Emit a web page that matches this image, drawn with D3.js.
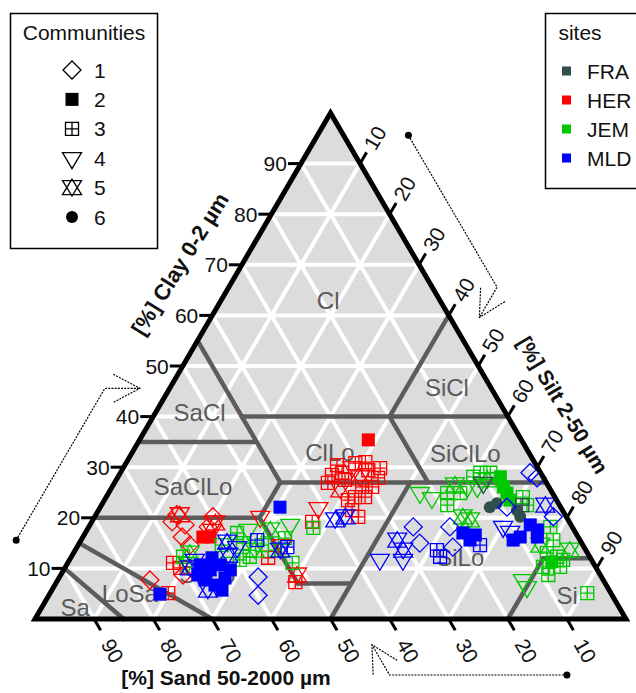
<!DOCTYPE html>
<html>
<head>
<meta charset="utf-8">
<script src="https://cdn.jsdelivr.net/npm/d3@7"></script>
<style>
  body { margin: 0; background: #fff; }
  svg { display: block; font-family: "Liberation Sans", Arial, sans-serif; }
</style>
</head>
<body>
<svg id="chart" width="636" height="693"></svg>
<script>
// ---- data: soil texture fractions [sand, silt, clay, community] per site ----
const siteNames = ["FRA", "HER", "JEM", "MLD"];
const siteColors = ["#2f4f4f", "#ff0000", "#00c800", "#0000ff"];
const communityLabels = ["1", "2", "3", "4", "5", "6"];
const axisTicks = [10, 20, 30, 40, 50, 60, 70, 80, 90];

const herSamples = [
  [65.7,13.7,20.6,1],[65.3,16.1,18.6,1],[67.0,16.8,16.2,1],[66.5,18.9,14.6,1],
  [67.2,13.6,19.2,1],[59.8,20.0,20.2,1],[61.6,20.2,18.2,1],[76.7,15.6,7.7,1],
  [70.6,20.7,8.7,1],[65.2,14.2,20.6,5],[63.5,20.3,16.2,2],[61.2,21.2,17.6,4],
  [60.0,21.0,19.0,5],[71.1,17.8,11.1,3],[70.4,19.5,10.1,3],[74.9,20.0,5.1,3],
  [51.3,40.0,8.7,5],[52.3,40.4,7.3,3],[50.9,34.5,14.6,4],[54.5,33.4,12.1,3],
  [51.8,28.0,20.2,4],[25.9,38.7,35.4,2],[35.5,36.0,28.5,3],[33.6,37.5,28.9,3],
  [30.4,38.8,30.8,3],[28.6,40.4,31.0,3],[28.9,41.7,29.4,3],[28.0,44.1,27.9,3],
  [31.6,42.3,26.1,3],[33.8,42.1,24.1,3],[32.1,43.8,24.1,3],[35.6,42.9,21.5,3],
  [29.9,44.0,26.1,3],[33.8,38.7,27.5,3],[37.0,36.1,26.9,3],[31.3,38.7,30.0,4],
  [31.0,41.1,27.9,5],[35.6,38.9,25.5,5],[35.3,41.2,23.5,3],[41.1,37.0,21.9,4],
  [43.5,37.3,19.2,3],[26.7,43.5,29.8,3],[33.7,35.9,30.4,3],[35.2,44.6,20.2,3],
  [62.3,21.5,16.2,2]
];

const jemSamples = [
  [68.8,18.9,12.3,3],[68.7,20.2,11.1,4],[67.3,19.7,13.0,5],[57.3,25.7,17.0,3],
  [57.3,27.7,15.0,3],[59.5,28.8,11.7,3],[57.5,30.2,12.3,3],[61.4,27.5,11.1,4],
  [55.1,27.3,17.6,4],[54.3,31.1,14.6,3],[52.6,33.8,13.6,3],[49.7,34.3,16.0,3],
  [51.4,31.0,17.6,5],[47.5,33.9,18.6,4],[56.0,30.4,13.6,5],[50.9,38.0,11.1,3],
  [43.9,38.1,18.0,3],[61.1,24.3,14.6,3],[22.4,52.7,24.9,4],[20.9,55.2,23.9,4],
  [17.8,57.3,24.9,3],[19.0,58.5,22.5,3],[15.6,59.5,24.9,3],[11.8,60.1,28.1,3],
  [10.2,60.9,28.9,3],[13.8,60.1,26.1,4],[17.5,62.3,20.2,5],[16.6,63.8,19.6,5],
  [8.5,62.6,28.9,3],[7.2,64.7,28.1,2],[7.7,66.2,26.1,2],[7.7,67.4,24.9,2],
  [7.9,68.6,23.5,2],[5.4,70.5,24.1,3],[5.5,72.0,22.5,3],[15.7,57.8,26.5,5],
  [9.7,62.8,27.5,5],[3.7,78.1,18.2,3],[4.5,79.9,15.6,3],[6.9,80.1,13.0,3],
  [5.5,82.2,12.3,3],[4.8,83.5,11.7,3],[2.7,83.7,13.6,5],[8.9,80.8,10.3,3],
  [6.0,83.7,10.3,3],[13.6,78.7,7.7,4],[13.6,80.1,6.3,4],[4.0,90.9,5.1,3],
  [7.2,78.2,14.6,5],[8.8,82.5,8.7,3],[6.9,81.8,11.3,2],[12.1,61.8,26.1,4]
];

const fraSamples = [
  [12.0,65.9,22.1,6],[10.4,66.7,22.9,6],[7.7,70.8,21.5,6],[7.8,72.0,20.2,6],
  [10.7,62.4,26.9,4],[6.3,71.2,22.5,3]
];

const mldSamples = [
  [76.4,18.7,4.9,2],[47.5,30.4,22.1,2],[66.7,22.6,10.7,2],[65.5,24.8,9.7,2],
  [63.3,26.0,10.7,2],[67.4,24.9,7.7,2],[66.2,27.1,6.7,2],[63.8,28.1,8.1,2],
  [62.1,28.2,9.7,2],[68.1,23.2,8.7,2],[64.0,23.9,12.1,2],[65.5,28.8,5.7,2],
  [67.9,26.4,5.7,5],[67.1,21.2,11.7,4],[61.0,26.4,12.6,5],[68.7,21.2,10.1,5],
  [59.9,24.9,15.2,5],[58.7,27.1,14.2,4],[54.6,29.8,15.6,3],[50.2,35.6,14.2,3],
  [58.1,33.6,8.3,1],[59.9,35.4,4.7,1],[39.4,41.0,19.6,5],[37.4,42.4,20.2,5],
  [51.7,34.7,13.6,5],[26.9,54.9,18.2,1],[27.4,57.6,15.0,1],[20.7,61.1,18.2,1],
  [22.2,63.6,14.2,1],[30.9,53.5,15.6,5],[30.9,55.5,13.6,5],[35.8,52.5,11.7,4],
  [31.9,56.4,11.7,4],[25.2,61.2,13.6,3],[25.3,62.4,12.3,3],[19.1,63.9,17.0,2],
  [18.6,65.8,15.6,2],[17.2,66.2,16.6,2],[17.4,68.0,14.6,3],[1.8,69.3,28.9,1],
  [1.1,71.0,27.9,1],[2.2,77.6,20.2,1],[9.1,68.8,22.1,1],[6.2,76.2,17.6,2],
  [9.8,74.0,16.2,2],[6.9,76.9,16.2,2],[11.3,73.1,15.6,2],[6.9,74.5,18.6,2],
  [11.7,70.1,18.2,4],[11.0,71.8,17.2,4],[2.4,75.1,22.5,5]
];

// USDA texture class boundaries, as [sand, silt, clay] end points
const classBoundaries = [
  [[45,0,55],[45,15,40]], [[65,0,35],[45,20,35]], [[45,15,40],[0,60,40]],
  [[45,15,40],[45,28,27]], [[20,40,40],[0,40,60]], [[20,40,40],[20,53,27]],
  [[45,28,27],[0,73,27]], [[80,0,20],[52,28,20]], [[45,28,27],[52,28,20]],
  [[52,28,20],[52,41,7]], [[52,41,7],[43,50,7]], [[23,50,27],[50,50,0]],
  [[8,80,12],[0,88,12]], [[8,80,12],[20,80,0]], [[85,0,15],[70,30,0]],
  [[90,0,10],[85,15,0]]
];
const classLabels = [
  ["Cl",18.9,18.1,63.0], ["SiCl",7.4,46.8,45.8], ["SaCl",51.7,7.4,40.9],
  ["ClLo",33.6,33.4,33.0], ["SiClLo",10.8,56.4,32.8], ["SaClLo",60.2,13.7,26.1],
  ["SaLo",66.5,24.8,8.7], ["SiLo",22.0,65.9,12.1],
  ["LoSa",81.4,13.5,5.1], ["Sa",92.1,5.7,2.2], ["Si",7.6,87.7,4.7]
];

// ---- geometry ----
const svg = d3.select("#chart");
const yScale = d3.scaleLinear().domain([0, 100]).range([619, 113]);
const xScale = d3.scaleLinear().domain([0, 100]).range([35, 626]);
const P = (sand, silt, clay) => [xScale(silt + clay / 2), yScale(clay)];
const line = d3.line();

const corners = [P(100,0,0), P(0,100,0), P(0,0,100)];
const unit = (a, b) => { const dx = b[0]-a[0], dy = b[1]-a[1], l = Math.hypot(dx, dy); return [dx/l, dy/l]; };
const leftDir = unit(corners[0], corners[2]);   // along clay axis, upward
const rightDir = unit(corners[2], corners[1]);  // along silt axis, downward

// background triangle
svg.append("path").attr("d", line(corners) + "Z").attr("fill", "#dcdcdc");

// white grid every 10 %
const grid = svg.append("g").attr("stroke", "#fff").attr("stroke-width", 4);
axisTicks.forEach(v => {
  grid.append("path").attr("d", line([P(100-v,0,v), P(0,100-v,v)]));
  grid.append("path").attr("d", line([P(100-v,v,0), P(0,v,100-v)]));
  grid.append("path").attr("d", line([P(v,100-v,0), P(v,0,100-v)]));
});

// texture class borders
const borders = svg.append("g").attr("stroke", "#5c5c5c").attr("stroke-width", 4.5)
  .attr("stroke-linecap", "round").attr("fill", "none");
classBoundaries.forEach(seg => borders.append("path").attr("d", line(seg.map(p => P(...p)))));

// class names
svg.append("g").selectAll("text").data(classLabels).join("text")
  .attr("x", d => P(d[1], d[2], d[3])[0]).attr("y", d => P(d[1], d[2], d[3])[1])
  .attr("text-anchor", "middle").attr("dominant-baseline", "central")
  .attr("font-size", 24).attr("fill", "#5a5a5a").text(d => d[0]);

// ---- symbols ----
const r = 9, hs = 6.5;
function drawSymbol(g, comm, color) {
  const open = { fill: "none", stroke: color, "stroke-width": 1.3 };
  const put = (sel, attrs) => { Object.entries(attrs).forEach(([k, v]) => sel.attr(k, v)); return sel; };
  switch (comm) {
    case 1: put(g.append("path").attr("d", `M0,${-r}L${r},0L0,${r}L${-r},0Z`), open); break;
    case 2: g.append("rect").attr("x", -hs).attr("y", -hs).attr("width", 2*hs).attr("height", 2*hs).attr("fill", color); break;
    case 3: put(g.append("path").attr("d", `M${-hs},${-hs}H${hs}V${hs}H${-hs}ZM${-hs},0H${hs}M0,${-hs}V${hs}`), open); break;
    case 4: put(g.append("path").attr("d", "M-9.5,-5.5H9.5L0,10.5Z"), open); break;
    case 5: put(g.append("path").attr("d", "M0,-8.5L9.5,7H-9.5ZM-9.5,-7H9.5L0,8.5Z"), open); break;
    case 6: g.append("circle").attr("r", 6).attr("fill", color); break;
  }
}

// ---- points ----
const siteSamples = [["HER", herSamples], ["JEM", jemSamples], ["FRA", fraSamples], ["MLD", mldSamples]];
const pts = svg.append("g");
siteSamples.forEach(([site, rows]) => {
  const color = siteColors[siteNames.indexOf(site)];
  rows.forEach(d => {
    const [x, y] = P(d[0], d[1], d[2]);
    drawSymbol(pts.append("g").attr("transform", `translate(${x},${y})`), d[3], color);
  });
});

// triangle frame
svg.append("path").attr("d", line(corners) + "Z").attr("fill", "none")
  .attr("stroke", "#000").attr("stroke-width", 5).attr("stroke-linejoin", "miter");

// ---- axes: ticks and labels ----
const tickLen = 13;
const axes = svg.append("g").attr("font-size", 21).attr("fill", "#111");
axisTicks.forEach(v => {
  // clay (left edge)
  let p = P(100 - v, 0, v);
  axes.append("path").attr("d", line([p, [p[0] - tickLen, p[1]]])).attr("stroke", "#000").attr("stroke-width", 3);
  axes.append("text").attr("x", p[0] - tickLen - 1).attr("y", p[1]).attr("text-anchor", "end")
    .attr("dominant-baseline", "central").text(v);
  // silt (right edge)
  p = P(0, v, 100 - v);
  let e = [p[0] + leftDir[0]*tickLen, p[1] + leftDir[1]*tickLen];
  axes.append("path").attr("d", line([p, e])).attr("stroke", "#000").attr("stroke-width", 3);
  let t = [e[0] + leftDir[0]*5, e[1] + leftDir[1]*5];
  axes.append("text").attr("transform", `translate(${t[0]},${t[1]}) rotate(-60)`)
    .attr("dominant-baseline", "central").text(v);
  // sand (bottom edge)
  p = P(v, 100 - v, 0);
  e = [p[0] + rightDir[0]*tickLen, p[1] + rightDir[1]*tickLen];
  axes.append("path").attr("d", line([p, e])).attr("stroke", "#000").attr("stroke-width", 3);
  t = [e[0] + rightDir[0]*12, e[1] + rightDir[1]*12];
  axes.append("text").attr("transform", `translate(${t[0]},${t[1]}) rotate(60)`)
    .attr("dominant-baseline", "central").text(v);
});

// axis titles
const titles = svg.append("g").attr("font-size", 21).attr("font-weight", "bold").attr("fill", "#111")
  .attr("text-anchor", "middle").attr("dominant-baseline", "central");
titles.append("text").attr("transform", "translate(180,264) rotate(-58)").attr("font-size", 22).text("[%] Clay 0-2 \u00b5m");
titles.append("text").attr("transform", "translate(563,405) rotate(59)").text("[%] Silt 2-50 \u00b5m");
titles.append("text").attr("transform", "translate(226,677)").text("[%] Sand 50-2000 \u00b5m");

// reading-direction arrows beside each axis
const arrows = svg.append("g").attr("stroke", "#000").attr("stroke-width", 1.2)
  .attr("stroke-dasharray", "2,1.2").attr("fill", "none");
function readingArrow(a, b, outward, inward) {
  const off = 56, bend = 35, wing = 30, ang = 28 * Math.PI / 180;
  const s = [a[0] + outward[0]*off, a[1] + outward[1]*off];
  const m = [b[0] + outward[0]*off, b[1] + outward[1]*off];
  const tip = [m[0] + inward[0]*bend, m[1] + inward[1]*bend];
  const back = Math.atan2(-inward[1], -inward[0]);
  const w1 = [tip[0] + wing*Math.cos(back + ang), tip[1] + wing*Math.sin(back + ang)];
  const w2 = [tip[0] + wing*Math.cos(back - ang), tip[1] + wing*Math.sin(back - ang)];
  arrows.append("path").attr("d", line([s, m, tip]));
  arrows.append("path").attr("d", line([w1, tip, w2]));
  svg.append("circle").attr("cx", s[0]).attr("cy", s[1]).attr("r", 3.5).attr("fill", "#000");
}
readingArrow(P(90,0,10), P(60,0,40), [leftDir[1], -leftDir[0]], [1, 0]);
readingArrow(P(0,10,90), P(0,40,60), [rightDir[1], -rightDir[0]], [-leftDir[0], -leftDir[1]]);
readingArrow(P(10,90,0), P(40,60,0), [0, 1], [-rightDir[0], -rightDir[1]]);

// ---- legends ----
const leg1 = svg.append("g");
leg1.append("rect").attr("x", 10.5).attr("y", 13.5).attr("width", 147).attr("height", 235)
  .attr("fill", "#fff").attr("stroke", "#000").attr("stroke-width", 1.5);
leg1.append("text").attr("x", 84).attr("y", 32).attr("text-anchor", "middle")
  .attr("dominant-baseline", "central").attr("font-size", 21).attr("fill", "#111").text("Communities");
communityLabels.forEach((lab, i) => {
  const y = 70 + i * 29.4;
  drawSymbol(leg1.append("g").attr("transform", `translate(72,${y})`), i + 1, "#000");
  leg1.append("text").attr("x", 94).attr("y", y).attr("dominant-baseline", "central")
    .attr("font-size", 21).attr("fill", "#111").text(lab);
});

const leg2 = svg.append("g");
leg2.append("rect").attr("x", 545.5).attr("y", 13.5).attr("width", 120).attr("height", 175)
  .attr("fill", "#fff").attr("stroke", "#000").attr("stroke-width", 1.5);
leg2.append("text").attr("x", 580).attr("y", 32).attr("text-anchor", "middle")
  .attr("dominant-baseline", "central").attr("font-size", 21).attr("fill", "#111").text("sites");
siteNames.forEach((s, i) => {
  const y = 71 + i * 29;
  leg2.append("rect").attr("x", 562).attr("y", y - 4.5).attr("width", 9).attr("height", 9).attr("fill", siteColors[i]);
  leg2.append("text").attr("x", 587).attr("y", y).attr("dominant-baseline", "central")
    .attr("font-size", 21).attr("fill", "#111").text(s);
});
</script>
</body>
</html>
